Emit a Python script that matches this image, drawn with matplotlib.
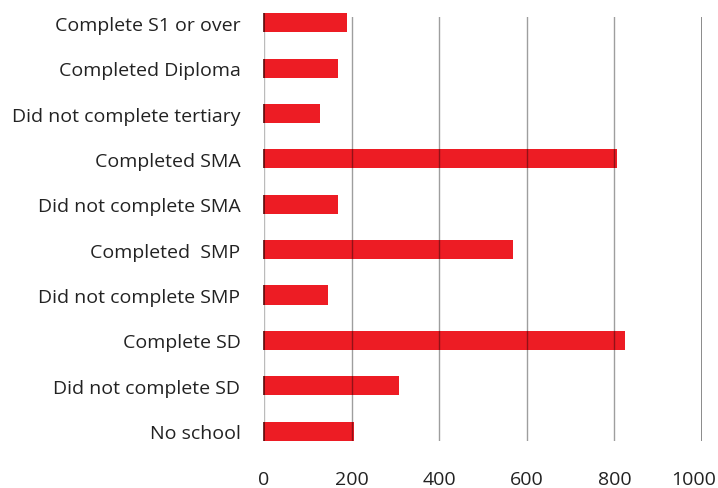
import matplotlib
matplotlib.use("Agg")
import matplotlib.pyplot as plt
from matplotlib.transforms import ScaledTranslation

# categories listed bottom -> top
categories = [
    "No school",
    "Did not complete SD",
    "Complete SD",
    "Did not complete SMP",
    "Completed  SMP",
    "Did not complete SMA",
    "Completed SMA",
    "Did not complete tertiary",
    "Completed Diploma",
    "Complete S1 or over",
]
values = [205, 308, 824, 146, 568, 168, 807, 128, 168, 189]
ticks = [0, 200, 400, 600, 800, 1000]

plt.rcParams['font.family'] = ['Open Sans', 'DejaVu Sans']

fig = plt.figure(figsize=(7.18, 4.89), dpi=100)
ax = fig.add_axes([264 / 718, 1 - 442 / 489, (702 - 264) / 718, (442 - 18) / 489])

ypos = list(range(len(categories)))
bars = ax.barh(ypos, values, height=0.42, color='#ED1C24', zorder=2)
for b in bars:
    b.set_clip_on(False)
# dark stroke at bar start
ax.vlines([0] * len(ypos), [y - 0.21 for y in ypos], [y + 0.21 for y in ypos],
          color='#5a0a0a', linewidth=1.2, zorder=3, clip_on=False)

ax.set_xlim(0, 1000)
ax.set_ylim(-0.22, 9.13)
ax.set_xticks(ticks)
ax.set_xticklabels([str(t) for t in ticks])
ax.set_yticks(ypos)
ax.set_yticklabels(categories)

for t in ticks[1:-1]:
    ax.axvline(t, color='black', alpha=0.38, linewidth=1, zorder=4)
ax.axvline(1000, color='#777777', linewidth=1.2, zorder=4)
ax.axvline(0, color='#bbbbbb', linewidth=1, zorder=1)

for s in ax.spines.values():
    s.set_visible(False)
ax.tick_params(axis='y', length=0, pad=17, labelsize=14, labelcolor='#222222')
ax.tick_params(axis='x', length=0, pad=21, labelsize=14, labelcolor='#222222')

# last tick label sits a little left of its gridline
lbl = ax.get_xticklabels()[-1]
lbl.set_transform(lbl.get_transform() + ScaledTranslation(-8 / 100, 0, fig.dpi_scale_trans))

fig.savefig('out.png', dpi=100)
